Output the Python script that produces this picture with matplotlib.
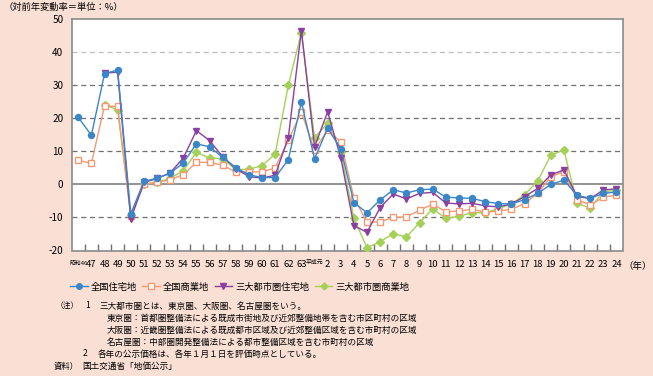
import numpy as np
import matplotlib
matplotlib.use("Agg")
import matplotlib.pyplot as plt
from matplotlib.lines import Line2D

plt.rcParams['font.family'] = ['Noto Sans CJK JP', 'DejaVu Sans']

years = ['昭和46'] + [str(y) for y in range(47, 64)] + ['平成元'] + [str(y) for y in range(2, 25)]

national_res = [20.3, 14.9, 33.5, 34.7, -8.9, 0.9, 1.9, 3.4, 6.5, 12.3, 11.4, 8.2, 5.1, 2.9, 2.1, 2.1,
                7.5, 24.9, 7.8, 17.0, 10.8, -5.5, -8.6, -4.7, -1.6, -2.6, -1.6, -1.4, -3.8, -4.1, -4.2,
                -5.2, -5.8, -5.9, -4.6, -2.7, 0.0, 1.3, -3.3, -4.2, -2.7, -2.3]
national_com = [7.3, 6.4, 23.8, 23.6, -9.5, 0.0, 0.7, 1.4, 3.0, 6.7, 6.7, 5.8, 3.8, 3.8, 3.8, 5.0,
                13.4, 21.9, 10.4, 16.5, 12.8, -4.0, -11.5, -11.3, -10.0, -9.8, -7.8, -6.0, -8.2, -8.1,
                -7.5, -8.4, -8.1, -7.5, -5.8, -2.7, 2.3, 3.9, -4.6, -6.2, -3.9, -3.2]
metro_res = [np.nan, np.nan, 33.7, 34.0, -10.5, 0.6, 1.8, 3.5, 8.0, 16.3, 13.3, 8.4, 4.8, 2.4, 1.9,
             2.8, 14.1, 46.6, 11.4, 22.0, 8.1, -12.5, -14.5, -7.0, -2.9, -4.4, -2.7, -2.4, -5.6, -5.9,
             -5.7, -6.5, -6.8, -5.9, -3.7, -1.2, 2.9, 4.4, -3.6, -4.3, -1.7, -1.3]
metro_com = [np.nan, np.nan, 24.1, 22.6, -9.2, 0.0, 0.7, 1.8, 4.2, 9.7, 8.0, 7.8, 4.5, 4.6, 5.7, 9.2,
             30.0, 46.0, 14.1, 18.6, 9.8, -10.2, -19.2, -17.3, -14.9, -15.9, -11.6, -7.4, -10.2, -9.7,
             -8.5, -8.6, -7.3, -6.0, -3.1, 1.0, 8.9, 10.4, -5.7, -7.2, -2.2, -1.8]

series_names = ['全国住宅地', '全国商業地', '三大都市圏住宅地', '三大都市圏商業地']

BG = '#f9dfd4'
W, H = 653, 376
fig = plt.figure(figsize=(W / 100, H / 100), dpi=100, facecolor=BG)
ax = fig.add_axes([71.7 / W, 1 - 250.5 / H, (623 - 71.7) / W, (250.5 - 19.3) / H])
ax.set_facecolor('white')

x = np.arange(len(years))
c_blue, c_orange, c_purple, c_green = '#3b86c9', '#f39a74', '#8b3f9e', '#a5d158'

ax.plot(x, metro_com, color=c_green, lw=1.0, marker='D', ms=3.6, mfc=c_green, mec=c_green, zorder=3)
ax.plot(x, national_com, color=c_orange, lw=1.0, marker='s', ms=4.2, mfc='white', mec=c_orange, mew=1.0, zorder=4)
ax.plot(x, metro_res, color=c_purple, lw=1.0, marker='v', ms=4.3, mfc=c_purple, mec=c_purple, zorder=5)
ax.plot(x, national_res, color=c_blue, lw=1.0, marker='o', ms=4.3, mfc=c_blue, mec=c_blue, zorder=6)

ax.set_xlim(-0.5, len(years) - 0.5)
ax.set_ylim(-20, 50)
yt = list(range(-20, 51, 10))
ax.set_yticks(yt)
ax.set_yticklabels([str(v) for v in yt], fontsize=7.2)
for v in yt:
    if v == 0:
        ax.axhline(v, color='#808080', lw=1.2, zorder=2)
    elif v in (-20, 50):
        continue
    else:
        ax.axhline(v, color='#bdbdbd' if v == 40 else '#6f6f6f', lw=0.9, ls=(0, (4, 3)), zorder=1)

ax.set_xticks(x)
ax.set_xticklabels(years, fontsize=6.8)
for lab in ax.get_xticklabels():
    if lab.get_text() in ('昭和46', '平成元'):
        lab.set_fontsize(4.2)
ax.tick_params(axis='x', which='major', length=0, pad=7)
ax.tick_params(axis='y', length=0, pad=6)
ax.set_xticks(np.arange(0.5, len(years) - 1, 1), minor=True)
ax.tick_params(axis='x', which='minor', direction='in', length=5, color='#707070', width=1)

for s in ax.spines.values():
    s.set_color('#8a8a8a')
    s.set_linewidth(1.2)

fig.text(638 / W, 1 - 266 / H, '（年）', fontsize=6.8, ha='center', va='center')
fig.text(4 / W, 1 - 7 / H, '（対前年変動率＝単位：%）', fontsize=6.7, ha='left', va='center')

handles = [
    Line2D([], [], color=c_blue, lw=1.0, marker='o', ms=4, mfc=c_blue, mec=c_blue),
    Line2D([], [], color=c_orange, lw=1.0, marker='s', ms=4, mfc='white', mec=c_orange),
    Line2D([], [], color=c_purple, lw=1.0, marker='v', ms=4, mfc=c_purple, mec=c_purple),
    Line2D([], [], color=c_green, lw=1.0, marker='D', ms=3.5, mfc=c_green, mec=c_green),
]
fig.legend(handles, series_names, loc='center left', bbox_to_anchor=(70 / W, 1 - 287 / H),
           ncol=4, frameon=False, fontsize=6.7, handlelength=1.9, handletextpad=0.3,
           columnspacing=0.6, borderaxespad=0, borderpad=0)

notes = [
    (56, 306, '（注）', 5.6),
    (85, 306, '1', 6.2),
    (99, 306, '三大都市圏とは、東京圏、大阪圏、名古屋圏をいう。', 6.2),
    (107, 318, '東京圏：首都圏整備法による既成市街地及び近郊整備地帯を含む市区町村の区域', 6.2),
    (107, 330, '大阪圏：近畿圏整備法による既成都市区域及び近郊整備区域を含む市町村の区域', 6.2),
    (107, 342, '名古屋圏：中部圏開発整備法による都市整備区域を含む市町村の区域', 6.2),
    (83, 354, '2', 6.2),
    (98, 354, '各年の公示価格は、各年１月１日を評価時点としている。', 6.2),
    (54, 366, '資料）', 6.0),
    (82, 366, '国土交通省「地価公示」', 6.2),
]
for px, py, t, fs in notes:
    fig.text(px / W, 1 - py / H, t, fontsize=fs, ha='left', va='center')

fig.savefig('out.png', dpi=100, facecolor=BG)
